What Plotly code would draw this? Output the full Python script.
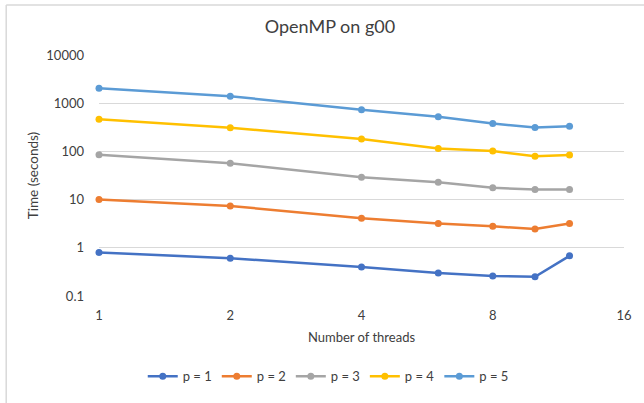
import plotly.graph_objects as go

# Thread counts tested
threads = [1, 2, 4, 6, 8, 10, 12]

# Run time in seconds for each problem size p
time_p1 = [0.80, 0.61, 0.40, 0.30, 0.26, 0.25, 0.68]
time_p2 = [10.1, 7.4, 4.1, 3.2, 2.8, 2.45, 3.2]
time_p3 = [85, 57, 29, 22.8, 17.6, 16.2, 16.2]
time_p4 = [462, 309, 181, 115, 102, 79, 84]
time_p5 = [2050, 1400, 728, 525, 378, 313, 333]

series_names = ["p = 1", "p = 2", "p = 3", "p = 4", "p = 5"]
series_values = [time_p1, time_p2, time_p3, time_p4, time_p5]
series_colors = ["#4472C4", "#ED7D31", "#A5A5A5", "#FFC000", "#5B9BD5"]

x_ticks = [1, 2, 4, 8, 16]
y_ticks = [0.1, 1, 10, 100, 1000, 10000]
y_tick_text = ["0.1", "1", "10", "100", "1000", "10000"]

FONT = "Lato, Calibri, Carlito, sans-serif"
TEXT = "#404040"

fig = go.Figure()
for name, vals, col in zip(series_names, series_values, series_colors):
    fig.add_trace(go.Scatter(
        x=threads, y=vals, name=name, mode="lines+markers",
        line=dict(color=col, width=2.5),
        marker=dict(color=col, size=7),
        cliponaxis=False,
    ))

W, H = 644, 403
L, R, T, B = 99, 16, 55, 102
pw, ph = W - L - R, H - T - B

fig.update_layout(
    width=W, height=H, autosize=False,
    margin=dict(l=L, r=R, t=T, b=B),
    paper_bgcolor="white", plot_bgcolor="white",
    font=dict(family=FONT, size=13, color=TEXT),
    title=dict(text="OpenMP on g00", x=330 / W, xanchor="center",
               y=1 - 27 / H, yanchor="middle", yref="container",
               font=dict(size=18, color=TEXT)),
    xaxis=dict(type="log", range=[0, 1.2041], tickvals=x_ticks,
               ticktext=[str(v) for v in x_ticks],
               showgrid=False, zeroline=False, showline=False,
               ticks="", ticklabelstandoff=10,
               title=dict(text="Number of threads", standoff=10,
                          font=dict(size=13, color=TEXT))),
    yaxis=dict(type="log", range=[-1, 4], tickvals=y_ticks,
               ticktext=y_tick_text,
               showgrid=True, gridcolor="#D9D9D9", gridwidth=1,
               zeroline=False, showline=False, ticks="",
               ticklabelstandoff=14,
               title=dict(text="Time (seconds)", standoff=4,
                          font=dict(size=13.5, color=TEXT))),
    legend=dict(orientation="h", x=(330 - L) / pw, xanchor="center",
                y=-(383 - T - ph) / ph, yanchor="middle",
                font=dict(size=13, color=TEXT), itemwidth=30,
                tracegroupgap=0, bgcolor="rgba(0,0,0,0)"),
    showlegend=True,
)

# Chart frame on the left and top edges
fx = (5.5 - L) / pw
fy = 1 + (T - 4) / ph
fig.add_shape(type="line", xref="paper", yref="paper",
              x0=fx, x1=fx, y0=fy, y1=-(H - T - ph) / ph - 0.1,
              line=dict(color="#D9D9D9", width=1.5))
fig.add_shape(type="line", xref="paper", yref="paper",
              x0=fx, x1=1.2, y0=fy, y1=fy,
              line=dict(color="#D9D9D9", width=1.5))

fig.write_html("out.html")
